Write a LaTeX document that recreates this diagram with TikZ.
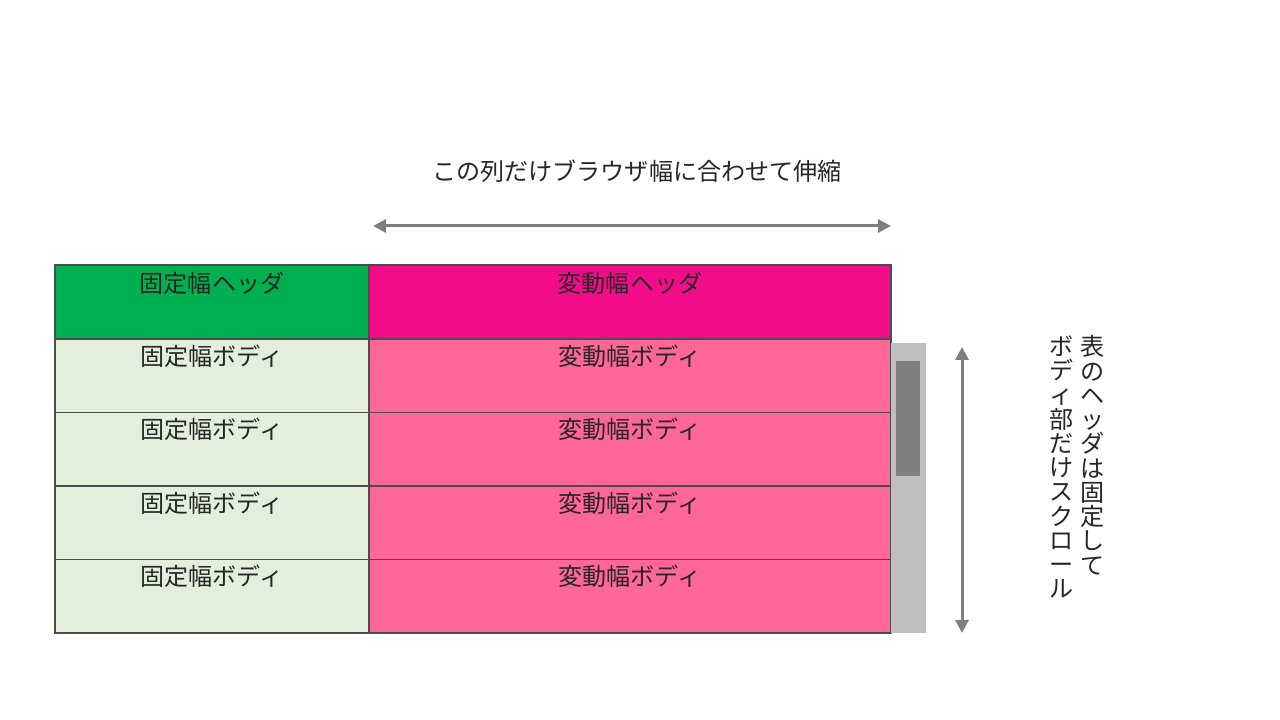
\documentclass[tikz,border=0pt]{standalone}
\usepackage{fontspec}
\setmainfont{Noto Sans CJK JP}
\usepackage{tikz}
\usetikzlibrary{positioning}
\usetikzlibrary{arrows.meta}
\definecolor{hdgreen}{HTML}{00B050}
\definecolor{hdpink}{HTML}{F20C8A}
\definecolor{bdgreen}{HTML}{E2EFDA}
\definecolor{bdpink}{HTML}{FF6699}
\definecolor{arrgray}{HTML}{7F7F7F}
\definecolor{trackgray}{HTML}{BFBFBF}
\definecolor{txtgray}{HTML}{262626}

\begin{document}
\begin{tikzpicture}[
    cell/.style={draw=black!70, line width=0.3pt, anchor=north west, inner sep=0pt, outer sep=0pt, minimum height=0.735cm},
    fixcol/.style={cell, minimum width=3.14cm},
    varcol/.style={cell, minimum width=5.22cm},
    lbl/.style={font=\fontsize{6.85}{6.9}\selectfont, text=txtgray, inner sep=0pt},
    sizearrow/.style={draw=arrgray, line width=0.03cm, {Triangle[length=0.13cm,width=0.13cm]}-{Triangle[length=0.13cm,width=0.13cm]}}
    ]
        \useasboundingbox (0,0) rectangle (12.8,7.2);
        % header row
        \node[fixcol, fill=hdgreen] (fh) at (0.55,4.55) {};
        \node[varcol, fill=hdpink] (vh) at (3.69,4.55) {};
        \node[lbl] at ([yshift=-0.18cm]fh.north) {固定幅ヘッダ};
        \node[lbl] at ([yshift=-0.18cm]vh.north) {変動幅ヘッダ};
        % body rows
        \foreach \r in {1,2,3,4} {
            \node[fixcol, fill=bdgreen] (fb\r) at (0.55,4.55-0.74-\r*0.735+0.735) {};
            \node[varcol, fill=bdpink] (vb\r) at (3.69,4.55-0.74-\r*0.735+0.735) {};
            \node[lbl] (fbt\r) at ([yshift=-0.17cm]fb\r.north) {固定幅ボディ};
            \node[lbl] (vbt\r) at ([yshift=-0.17cm]vb\r.north) {変動幅ボディ};
        }
        % scrollbar
        \fill[trackgray] (8.91,3.77) rectangle (9.26,0.87);
        \fill[arrgray] (8.96,3.59) rectangle (9.20,2.44);
        % width arrow
        \node[lbl] (wtxt) at (6.37,5.49) {この列だけブラウザ幅に合わせて伸縮};
        \coordinate (wl) at (3.73,4.94);
        \coordinate (wr) at (8.91,4.94);
        \draw[sizearrow] (wl) -- (wr);
        % scroll arrow
        \coordinate (st) at (9.62,3.73);
        \coordinate (sb) at (9.62,0.87);
        \draw[sizearrow] (st) -- (sb);
        \node[lbl, anchor=north, align=center] (stxt1) at (10.93,3.85) {表\\の\\ヘ\\ッ\\ダ\\は\\固\\定\\し\\て};
        \node[lbl, anchor=north, align=center] (stxt2) at (10.62,3.85) {ボ\\デ\\ィ\\部\\だ\\け\\ス\\ク\\ロ\\ー\\ル};
    \end{tikzpicture}
\end{document}
